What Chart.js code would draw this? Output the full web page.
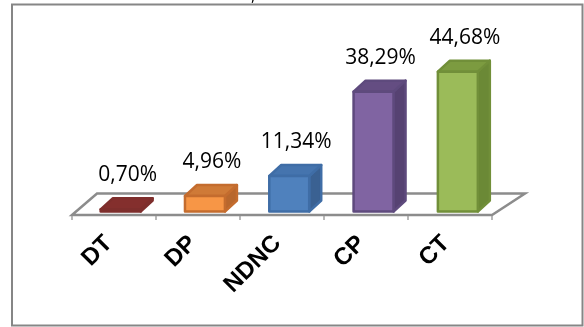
<!DOCTYPE html>
<html><head><meta charset="utf-8">
<script src="https://cdn.jsdelivr.net/npm/chart.js@4.4.1/dist/chart.umd.min.js"></script>
<style>html,body{margin:0;padding:0;background:#fff}canvas{display:block}</style>
</head><body>
<canvas id="c" width="584" height="327"></canvas>
<script>
const categories = ['DT', 'DP', 'NDNC', 'CP', 'CT'];
const values = [0.70, 4.96, 11.34, 38.29, 44.68];
const valueLabels = values.map(v => v.toFixed(2).replace('.', ',') + '%');
const frontColors = ['#943634', '#F79646', '#4F81BD', '#8064A2', '#9BBB59'];
const topColors = ['#842F2D', '#CF7A37', '#4574AE', '#644D82', '#7C9B40'];
const sideColors = ['#722826', '#B8672D', '#3A6192', '#564272', '#6B8936'];
const edgeColors = ['#7E2E2C', '#C46C2E', '#3F6DA6', '#5E4A7D', '#718F39'];

const DX = 12, DY = -11;

const boxPlugin = {
  id: 'box',
  beforeDraw(chart) {
    const ctx = chart.ctx;
    ctx.save();
    ctx.fillStyle = '#fff';
    ctx.fillRect(0, 0, chart.width, chart.height);
    ctx.strokeStyle = '#868686';
    ctx.lineWidth = 2;
    ctx.strokeRect(12, 4.5, 570.5, 321);
    ctx.fillStyle = '#000';
    ctx.font = '16px "Open Sans", sans-serif';
    ctx.textAlign = 'center';
    ctx.textBaseline = 'alphabetic';
    ctx.fillText(',', 253, 1);
    ctx.restore();
  }
};

const floorPlugin = {
  id: 'floor',
  beforeDatasetsDraw(chart) {
    const ctx = chart.ctx;
    const xs = chart.scales.x, ys = chart.scales.y;
    const base = ys.getPixelForValue(0);
    const FL = [xs.left - 6.5, base + 3.5];
    const FR = [xs.right - 8, base + 3.5];
    const BL = [xs.left + 18.5, base - 18];
    const BR = [xs.right + 25, base - 18];
    ctx.save();
    ctx.strokeStyle = '#8C8C8C';
    ctx.lineWidth = 2.5;
    ctx.lineJoin = 'miter';
    ctx.beginPath();
    ctx.moveTo(FL[0], FL[1]);
    ctx.lineTo(BL[0], BL[1]);
    ctx.lineTo(BR[0], BR[1]);
    ctx.lineTo(FR[0], FR[1]);
    ctx.closePath();
    ctx.stroke();
    ctx.lineWidth = 1.5;
    ctx.strokeStyle = '#A0A0A0';
    const n = categories.length;
    for (let i = 0; i <= n; i++) {
      const x = FL[0] + i * (FR[0] - FL[0]) / n;
      ctx.beginPath();
      ctx.moveTo(x, base + 4.5);
      ctx.lineTo(x, base + 8.5);
      ctx.stroke();
    }
    ctx.restore();
  }
};

function poly(ctx, pts, fill, stroke) {
  ctx.beginPath();
  ctx.moveTo(pts[0][0], pts[0][1]);
  for (let i = 1; i < pts.length; i++) ctx.lineTo(pts[i][0], pts[i][1]);
  ctx.closePath();
  ctx.fillStyle = fill;
  ctx.fill();
  ctx.strokeStyle = stroke;
  ctx.stroke();
}

const bars3dPlugin = {
  id: 'bars3d',
  afterDatasetsDraw(chart) {
    const ctx = chart.ctx;
    const meta = chart.getDatasetMeta(0);
    ctx.save();
    ctx.lineWidth = 2.5;
    ctx.lineJoin = 'round';
    meta.data.forEach((bar, i) => {
      const p = bar.getProps(['x', 'y', 'base', 'width'], true);
      const l = p.x - p.width / 2, r = p.x + p.width / 2;
      const t = p.y, b = p.base;
      poly(ctx, [[r, t], [r + DX, t + DY], [r + DX, b + DY], [r, b]], sideColors[i], edgeColors[i]);
      poly(ctx, [[l, t], [l + DX, t + DY], [r + DX, t + DY], [r, t]], topColors[i], edgeColors[i]);
      poly(ctx, [[l, t], [r, t], [r, b], [l, b]], frontColors[i], edgeColors[i]);
      ctx.fillStyle = '#000';
      ctx.font = '21px "Open Sans", sans-serif';
      ctx.textAlign = 'center';
      ctx.textBaseline = 'alphabetic';
      ctx.fillText(valueLabels[i], p.x + 7, t + DY - 17);
    });
    ctx.restore();
  }
};

new Chart(document.getElementById('c'), {
  type: 'bar',
  data: {
    labels: categories,
    datasets: [{
      data: values,
      backgroundColor: 'rgba(0,0,0,0)',
      borderWidth: 0,
      barPercentage: 0.474,
      categoryPercentage: 1
    }]
  },
  options: {
    responsive: false,
    animation: false,
    devicePixelRatio: 1,
    events: [],
    layout: { padding: { left: 78.5, right: 84, top: 55, bottom: 0 } },
    plugins: { legend: { display: false }, tooltip: { enabled: false }, title: { display: false } },
    scales: {
      x: {
        grid: { display: false, drawTicks: false },
        border: { display: false },
        ticks: {
          minRotation: 45, maxRotation: 45, labelOffset: -12, padding: 18,
          color: '#000',
          font: { family: '"Liberation Sans", Arial, sans-serif', size: 24, weight: 'bold' }
        },
        afterFit: s => { s.height = 327 - 211.5; }
      },
      y: { display: false, min: 0, max: 50 }
    }
  },
  plugins: [boxPlugin, floorPlugin, bars3dPlugin]
});
</script>
</body></html>
